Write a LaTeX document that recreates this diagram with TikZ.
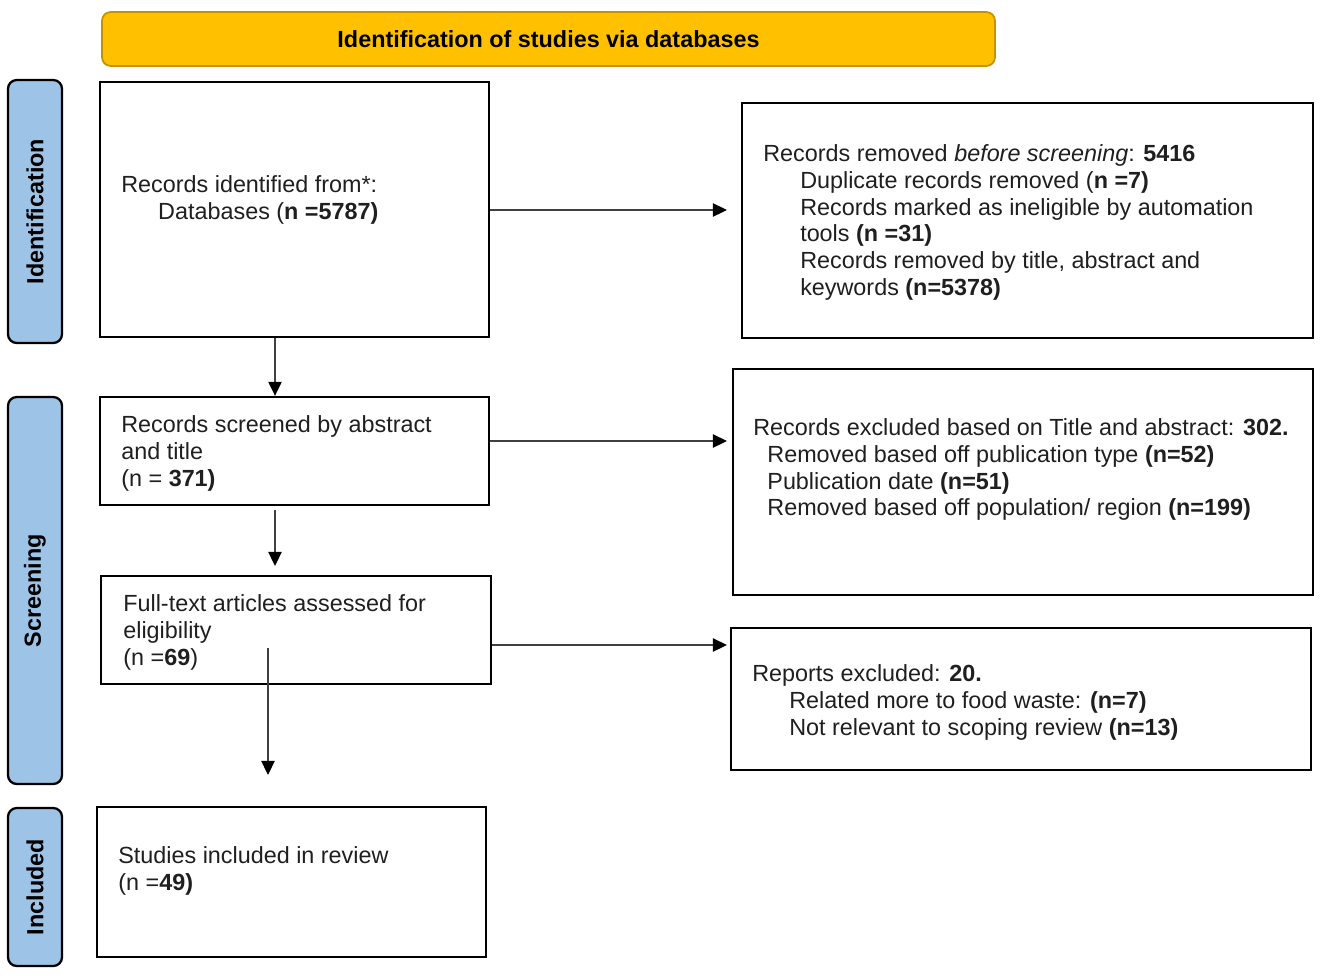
\documentclass[tikz,border=0pt]{standalone}
\usepackage{fontspec}
\setmainfont{Liberation Sans}
\usetikzlibrary{fit,arrows.meta}
\definecolor{headgold}{HTML}{FFC000}
\definecolor{headedge}{HTML}{C29400}
\definecolor{sideblue}{HTML}{9DC3E6}
\newcommand{\ind}{\hspace*{21pt}}
\tikzset{
  box/.style={draw=black, line width=1.3pt, inner sep=0pt},
  phase/.style={draw=black, line width=1.3pt, fill=sideblue,
    rounded corners=5pt, inner sep=0pt},
  phasetext/.style={rotate=90, font=\fontsize{13.3}{15.3}\selectfont\bfseries},
  boxtext/.style={anchor=north west, inner sep=0pt, align=left,
    text=black!88, font=\fontsize{13.3}{15.3}\selectfont},
  conn/.style={draw=black!75, line width=1pt,
    -{Triangle[length=8pt,width=7.5pt,color=black]}}
}
\begin{document}
\begin{tikzpicture}[x=0.02cm,y=-0.02cm]
    \fill[white] (0,0) rectangle (1325,978);
    \useasboundingbox (0,0) rectangle (1325,978);
    % header bar
    \node[draw=headedge, line width=1pt, fill=headgold, rounded corners=5pt,
        inner sep=0pt, fit={(102,12) (995,66)}] (head) {};
    \node[font=\fontsize{13.3}{15.3}\selectfont\bfseries] at (head.center)
        (headtext) {Identification of studies via databases};
    % phase labels on the left
    \node[phase, fit={(8,80) (62,343)}] (pident) {};
    \node[phasetext] at (pident.center) (pidenttext) {Identification};
    \node[phase, fit={(8,397) (62,784)}] (pscreen) {};
    \node[phasetext] at (pscreen.center) (pscreentext) {Screening};
    \node[phase, fit={(8,808) (62,966)}] (pincl) {};
    \node[phasetext] at (pincl.center) (pincltext) {Included};
    % main column
    \node[box, fit={(100,82) (489,337)}] (ident) {};
    \node[boxtext] at (121,175) (identtext)
        {Records identified from*:\\
         \ind Databases (\textbf{n =5787)}};
    \node[box, fit={(100,397) (489,505)}] (screen) {};
    \node[boxtext] at (121,415) (screentext)
        {Records screened by abstract\\
         and title\\
         (n = \textbf{371)}};
    \node[box, fit={(101,576) (491,684)}] (full) {};
    \node[boxtext] at (123,594) (fulltext)
        {Full-text articles assessed for\\
         eligibility\\
         (n =\textbf{69})};
    \node[box, fit={(97,807) (486,957)}] (incl) {};
    \node[boxtext] at (118,846) (incltext)
        {Studies included in review\\
         (n =\textbf{49)}};
    % right column
    \node[box, fit={(742,103) (1313,338)}] (removed) {};
    \node[boxtext] at (763,144) (removedtext)
        {Records removed \textit{before screening}: \textbf{5416}\\
         \ind Duplicate records removed (\textbf{n =7)}\\
         \ind Records marked as ineligible by automation\\
         \ind tools \textbf{(n =31)}\\
         \ind Records removed by title, abstract and\\
         \ind keywords \textbf{(n=5378)}};
    \node[box, fit={(733,369) (1313,595)}] (excl) {};
    \node[boxtext] at (753,418) (excltext)
        {Records excluded based on Title and abstract: \textbf{302.}\\
         \hspace*{8pt}Removed based off publication type \textbf{(n=52)}\\
         \hspace*{8pt}Publication date \textbf{(n=51)}\\
         \hspace*{8pt}Removed based off population/ region \textbf{(n=199)}};
    \node[box, fit={(731,628) (1311,770)}] (reports) {};
    \node[boxtext] at (752,664) (reportstext)
        {Reports excluded: \textbf{20.}\\
         \ind Related more to food waste: \textbf{(n=7)}\\
         \ind Not relevant to scoping review \textbf{(n=13)}};
    % free ends of the connectors
    \coordinate (toremoved) at (727,210);
    \coordinate (toexcl) at (727,441);
    \coordinate (toreports) at (727,645);
    \coordinate (downa) at (275,0);
    \coordinate (fromscreen) at (275,510);
    \coordinate (tofull) at (275,566);
    \coordinate (fromfull) at (268,648);
    \coordinate (toincl) at (268,775);
    % connectors
    \draw[conn] (ident.east |- toremoved) -- (toremoved);
    \draw[conn] (screen.east |- toexcl) -- (toexcl);
    \draw[conn] (full.east |- toreports) -- (toreports);
    \draw[conn] (ident.south -| downa) -- (screen.north -| downa);
    \draw[conn] (fromscreen) -- (tofull);
    \draw[conn] (fromfull) -- (toincl);
\end{tikzpicture}
\end{document}
